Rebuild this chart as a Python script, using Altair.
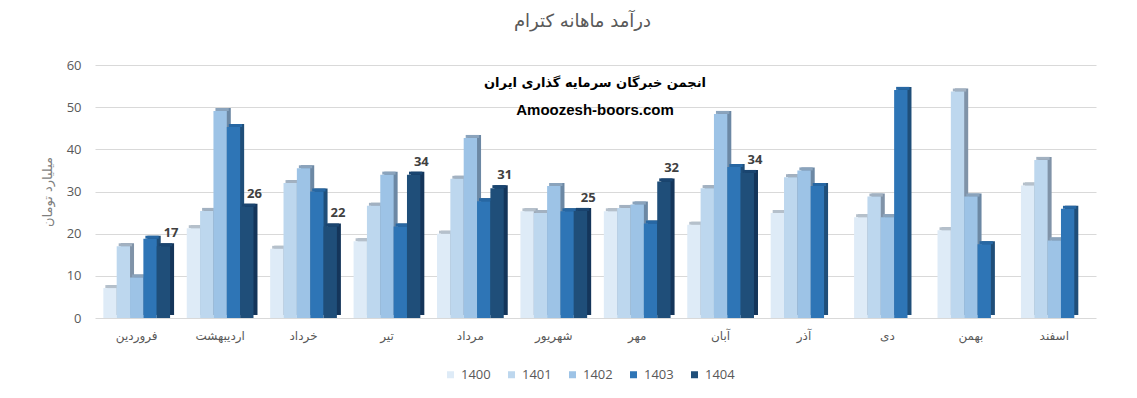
import altair as alt
import pandas as pd

months = ["فروردین", "اردیبهشت", "خرداد", "تیر", "مرداد", "شهریور",
          "مهر", "آبان", "آذر", "دی", "بهمن", "اسفند"]
years = ["1400", "1401", "1402", "1403", "1404"]

v1400 = [7.1, 21.3, 16.4, 18.2, 20.0, 25.3, 25.3, 22.1, 24.9, 23.9, 20.8, 31.4]
v1401 = [17.0, 25.4, 32.0, 26.6, 33.0, 24.9, 26.1, 30.8, 33.4, 28.8, 53.7, 37.5]
v1402 = [9.6, 49.1, 35.5, 34.0, 42.7, 31.3, 26.9, 48.4, 35.0, 23.9, 28.8, 18.4]
v1403 = [18.8, 45.3, 30.0, 21.7, 27.7, 25.3, 22.4, 35.8, 31.3, 54.1, 17.5, 25.9]
v1404 = [17.0, 26.4, 21.7, 34.0, 30.8, 25.4, 32.4, 34.4]

front_colors = ["#DEEBF7", "#BDD7EE", "#9DC3E6", "#2E75B6", "#1F4E79"]
side_colors = ["#9DAAB8", "#8093A8", "#6C88A4", "#1F4E79", "#14355A"]
top_colors = ["#B5C0CB", "#A2B1C1", "#8AA3BC", "#2767A3", "#1A4570"]

series = [v1400, v1401, v1402, v1403, v1404]
rows = []
for yi, (yr, vals) in enumerate(zip(years, series)):
    for mi, v in enumerate(vals):
        rows.append({"month": months[mi], "year": yr, "value": v,
                     "side": side_colors[yi], "top": top_colors[yi]})
df = pd.DataFrame(rows)

W = 1001
step = W / (12 - 0.2 + 0.2)
bw = step * 0.8
depth = 4


def xo(shift):
    return alt.XOffset("year:N", sort=years,
                       scale=alt.Scale(domain=years, paddingInner=0, paddingOuter=0,
                                       range=[shift, bw + shift]))


x_enc = alt.X("month:N", sort=months, title=None,
              scale=alt.Scale(paddingInner=0.2, paddingOuter=0.1),
              axis=alt.Axis(labelAngle=0, domain=False, ticks=False, grid=False,
                            labelFont="DejaVu Sans", labelFontSize=12,
                            labelColor="#595959", labelPadding=12))
y_enc = alt.Y("value:Q", title="میلیارد تومان",
              scale=alt.Scale(domain=[0, 60], nice=False),
              axis=alt.Axis(values=[0, 10, 20, 30, 40, 50, 60], domain=False,
                            ticks=False, gridColor="#D9D9D9", gridWidth=1,
                            labelFont="Open Sans", labelFontSize=13,
                            labelColor="#595959", labelPadding=14,
                            titleFont="DejaVu Sans", titleFontSize=13,
                            titleFontWeight="normal", titleColor="#7F7F7F",
                            titlePadding=12))

base = alt.Chart(df)

side = base.mark_bar(yOffset=-3, y2Offset=-3).encode(
    x=x_enc, xOffset=xo(depth), y=y_enc, y2=alt.datum(0),
    color=alt.Color("side:N", scale=None),
)

top = base.mark_bar(yOffset=-3).encode(
    x=x_enc, xOffset=xo(depth / 2), y=y_enc, y2=alt.Y2("value:Q"),
    color=alt.Color("top:N", scale=None),
)

front = base.mark_bar().encode(
    x=x_enc, xOffset=xo(0), y=y_enc,
    color=alt.Color("year:N", sort=years,
                    scale=alt.Scale(domain=years, range=front_colors),
                    legend=alt.Legend(title=None, orient="none", direction="horizontal",
                                      legendX=349, legendY=303,
                                      symbolType="square", symbolSize=49,
                                      symbolStrokeWidth=0, labelFont="Open Sans",
                                      labelFontSize=13, labelColor="#595959",
                                      columnPadding=14, labelOffset=4)),
)

labels = base.transform_filter(alt.datum.year == "1404").mark_text(
    dx=1, dy=-6, baseline="bottom", align="center", fontWeight="bold",
    fontSize=13, font="Open Sans", color="#404040",
).encode(
    x=x_enc, xOffset=xo(0), y=y_enc,
    text=alt.Text("value:Q", format=".0f"),
)

wm_lines = ["انجمن خبرگان سرمایه گذاری ایران", "Amoozesh-boors.com"]
wm1 = alt.Chart(pd.DataFrame({"t": [wm_lines[0]]})).mark_text(
    fontSize=13, fontWeight="bold", font="DejaVu Sans", color="#000000",
    align="center", baseline="middle",
).encode(text="t:N", x=alt.value(500), y=alt.value(18))
wm2 = alt.Chart(pd.DataFrame({"t": [wm_lines[1]]})).mark_text(
    fontSize=15, fontWeight="bold", font="Liberation Sans", color="#000000",
    align="center", baseline="middle",
).encode(text="t:N", x=alt.value(500), y=alt.value(45))

chart = alt.layer(side, top, front, labels, wm1, wm2).resolve_scale(
    xOffset="independent"
).properties(
    width=W, height=253,
    title=alt.TitleParams("درآمد ماهانه کترام", font="DejaVu Sans", fontSize=18,
                          fontWeight="normal", color="#595959", offset=28, dx=-13),
    autosize=alt.AutoSizeParams(type="none"),
    padding={"left": 87, "top": 57, "right": 33, "bottom": 72},
).configure_view(stroke=None)

chart.save("out.html", embed_options={"renderer": "svg", "actions": False})
